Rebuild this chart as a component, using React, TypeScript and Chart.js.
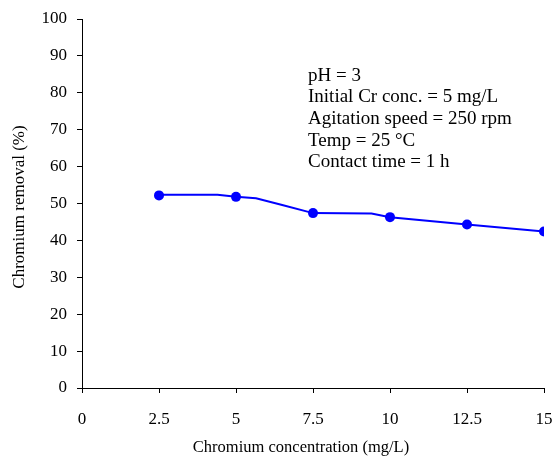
import { useEffect, useRef } from "react";
import { Chart, registerables } from "chart.js";

Chart.register(...registerables);

// Measured points
const concentrations = [2.5, 5, 7.5, 10, 12.5, 15];
const removal = [52.2, 51.8, 47.4, 46.3, 44.3, 42.4];

// Connecting curve as drawn in the figure
const curveX = [2.5, 4.4, 5, 5.65, 6.5, 7.5, 9.4, 10, 12.5, 15];
const curveY = [52.4, 52.4, 51.8, 51.4, 49.6, 47.4, 47.3, 46.3, 44.3, 42.4];

const xTicks = [0, 2.5, 5, 7.5, 10, 12.5, 15];
const yTicks = [0, 10, 20, 30, 40, 50, 60, 70, 80, 90, 100];

const conditions = [
  "pH = 3",
  "Initial Cr conc. = 5 mg/L",
  "Agitation speed = 250 rpm",
  "Temp = 25 °C",
  "Contact time = 1 h",
];
const xTitle = "Chromium concentration (mg/L)";
const yTitle = "Chromium removal (%)";

const FONT = "'Liberation Serif', 'Times New Roman', Times, serif";

export default function App() {
  const ref = useRef<HTMLCanvasElement | null>(null);

  useEffect(() => {
    if (!ref.current) return;
    const textPlugin = {
      id: "textPlugin",
      afterDraw(chart: any) {
        const { ctx } = chart;
        ctx.save();
        ctx.fillStyle = "#000";
        ctx.font = `19px ${FONT}`;
        ctx.textAlign = "left";
        ctx.textBaseline = "alphabetic";
        conditions.forEach((t, i) => {
          ctx.fillText(t, 308, 80.5 + i * 21.7);
        });
        // x title
        ctx.font = `16.5px ${FONT}`;
        ctx.textAlign = "center";
        ctx.textBaseline = "middle";
        ctx.fillText(xTitle, 301, 448);
        // y title
        ctx.font = `17px ${FONT}`;
        ctx.translate(20, 207);
        ctx.rotate(-Math.PI / 2);
        ctx.fillText(yTitle, 0, 0);
        ctx.restore();
      },
    };

    const chart = new Chart(ref.current, {
      type: "scatter",
      data: {
        datasets: [
          {
            label: "curve",
            data: curveX.map((x, i) => ({ x, y: curveY[i] })),
            showLine: true,
            borderColor: "#0000FF",
            borderWidth: 2,
            pointRadius: 0,
            tension: 0,
            fill: false,
          },
          {
            label: "removal",
            data: concentrations.map((x, i) => ({ x, y: removal[i] })),
            showLine: false,
            backgroundColor: "#0000FF",
            borderColor: "#0000FF",
            pointRadius: 5,
            pointBorderWidth: 0,
          },
        ],
      },
      options: {
        responsive: false,
        animation: false,
        devicePixelRatio: 1,
        layout: { autoPadding: false, padding: { left: 0, top: 19, right: 12, bottom: 0 } },
        plugins: {
          legend: { display: false },
          tooltip: { enabled: false },
        },
        scales: {
          x: {
            type: "linear",
            min: 0,
            max: 15,
            afterBuildTicks: (scale: any) => {
              scale.ticks = xTicks.map((v) => ({ value: v }));
            },
            afterFit: (scale: any) => {
              scale.height = 69;
              scale.paddingLeft = 0;
              scale.paddingRight = 0;
              scale.paddingTop = 0;
              scale.paddingBottom = 0;
            },
            ticks: {
              color: "#000",
              font: { family: FONT, size: 17 },
              padding: 16,
              maxRotation: 0,
              autoSkip: false,
              callback: (v: any) => String(v),
            },
            grid: {
              display: true,
              drawOnChartArea: false,
              drawTicks: true,
              tickLength: 5,
              color: "#000",
              lineWidth: 1,
            },
            border: { display: true, color: "#000", width: 1 },
          },
          y: {
            type: "linear",
            min: 0,
            max: 100,
            afterBuildTicks: (scale: any) => {
              scale.ticks = yTicks.map((v) => ({ value: v }));
            },
            afterFit: (scale: any) => {
              scale.width = 82;
              scale.paddingLeft = 0;
              scale.paddingRight = 0;
              scale.paddingTop = 0;
              scale.paddingBottom = 0;
            },
            ticks: {
              color: "#000",
              font: { family: FONT, size: 17 },
              padding: 10,
              autoSkip: false,
              callback: (v: any) => String(v),
            },
            grid: {
              display: true,
              drawOnChartArea: false,
              drawTicks: true,
              tickLength: 5,
              color: "#000",
              lineWidth: 1,
            },
            border: { display: true, color: "#000", width: 1 },
          },
        },
      },
      plugins: [textPlugin],
    } as any);

    return () => chart.destroy();
  }, []);

  return (
    <div style={{ position: "absolute", left: 0, top: 0, width: 556, height: 457, background: "#fff" }}>
      <canvas ref={ref} width={556} height={457} style={{ display: "block" }} />
    </div>
  );
}
